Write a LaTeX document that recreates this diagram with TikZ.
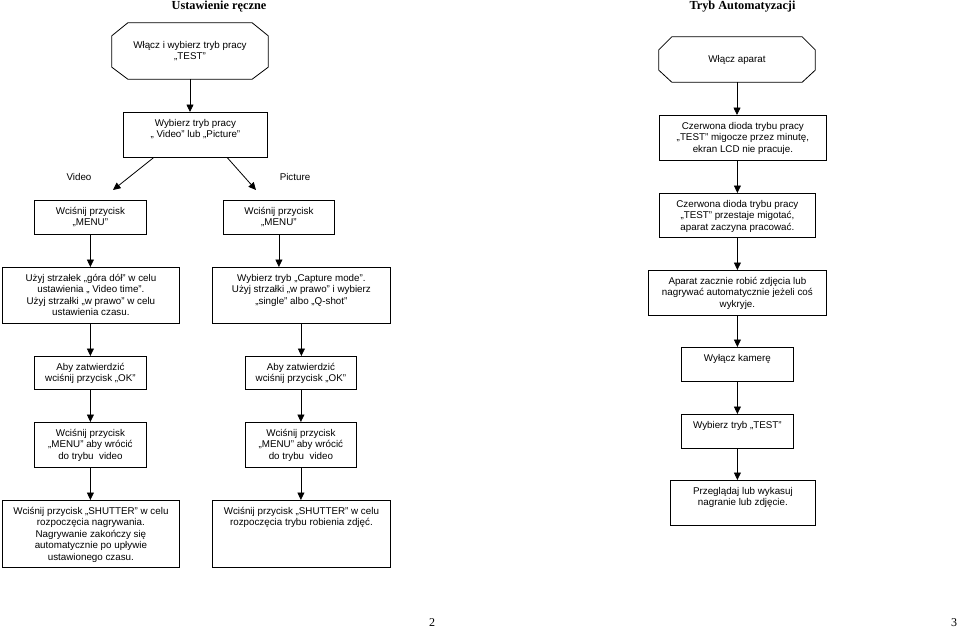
\documentclass[tikz,border=0pt]{standalone}
\usepackage{fontspec}
\setmainfont{Liberation Sans}
\newfontfamily\serifx{Liberation Serif}
\usetikzlibrary{arrows.meta}
\newcommand\bxt[3]{\parbox[c][#2][t]{#1}{\centering\fontsize{9.8}{11.5}\selectfont\rule{0pt}{14pt}#3\par}}
\tikzset{
 box/.style={draw, line width=0.8pt, inner sep=0pt, anchor=north west},
 arr/.style={line width=0.8pt, -{Triangle[length=7.5pt,width=7pt]}},
 lbl/.style={font=\fontsize{9.8}{11.5}\selectfont, inner sep=0pt},
 ttl/.style={font=\serifx\bfseries\fontsize{12.3}{14}\selectfont, inner sep=0pt, anchor=base},
 pnum/.style={font=\serifx\fontsize{12}{14}\selectfont, inner sep=0pt, anchor=base},
 octo/.style={line width=0.8pt},
}
\begin{document}
\begin{tikzpicture}[x=1pt,y=-1pt]
\useasboundingbox (0,0) rectangle (960,629);
% titles
\node[ttl] (t1) at (219,9.5) {Ustawienie ręczne};
\node[ttl] (t2) at (742.5,9.5) {Tryb Automatyzacji};
% left octagon
\node[lbl, minimum width=156pt, minimum height=56pt, align=center] (octL) at (190,51) {Włącz i wybierz tryb pracy\\„TEST”};
\draw[octo] ([xshift=16pt]octL.north west) -- ([xshift=-16pt]octL.north east) -- ([yshift=-13pt]octL.north east) -- ([yshift=12pt]octL.south east) -- ([xshift=-16pt]octL.south east) -- ([xshift=16pt]octL.south west) -- ([yshift=12pt]octL.south west) -- ([yshift=-13pt]octL.north west) -- cycle;
% right octagon
\node[lbl, minimum width=156pt, minimum height=45pt, align=center] (octR) at (737,59.5) {Włącz aparat};
\draw[octo] ([xshift=13pt]octR.north west) -- ([xshift=-13pt]octR.north east) -- ([yshift=-13pt]octR.north east) -- ([yshift=12pt]octR.south east) -- ([xshift=-13pt]octR.south east) -- ([xshift=13pt]octR.south west) -- ([yshift=12pt]octR.south west) -- ([yshift=-13pt]octR.north west) -- cycle;
% left side boxes
\node[box] (wyb) at (123,112) {\bxt{144pt}{45pt}{Wybierz tryb pracy\\„ Video” lub „Picture”}};
\node[box] (menuL) at (34,200) {\bxt{112pt}{34pt}{Wciśnij przycisk\\„MENU”}};
\node[box] (menuR) at (223,200) {\bxt{111pt}{34pt}{Wciśnij przycisk\\„MENU”}};
\node[box] (uzyj) at (2,267) {\bxt{177pt}{56pt}{Użyj strzałek „góra dół” w celu\\ustawienia „ Video time”.\\Użyj strzałki „w prawo” w celu\\ustawienia czasu.}};
\node[box] (capt) at (212,267) {\bxt{178pt}{56pt}{Wybierz tryb „Capture mode”.\\Użyj strzałki „w prawo” i wybierz\\„single” albo „Q-shot”}};
\node[box] (abyL) at (34,356) {\bxt{112pt}{33pt}{Aby zatwierdzić\\wciśnij przycisk „OK”}};
\node[box] (abyR) at (245,356) {\bxt{111pt}{33pt}{Aby zatwierdzić\\wciśnij przycisk „OK”}};
\node[box] (wrocL) at (34,422) {\bxt{112pt}{45pt}{Wciśnij przycisk\\„MENU” aby wrócić\\do trybu\ \ video}};
\node[box] (wrocR) at (245,422) {\bxt{111pt}{45pt}{Wciśnij przycisk\\„MENU” aby wrócić\\do trybu\ \ video}};
\node[box] (shutL) at (2,500) {\bxt{177pt}{67pt}{Wciśnij przycisk „SHUTTER” w celu\\rozpoczęcia nagrywania.\\Nagrywanie zakończy się\\automatycznie po upływie\\ustawionego czasu.}};
\node[box] (shutR) at (212,500) {\bxt{178pt}{67pt}{Wciśnij przycisk „SHUTTER” w celu\\rozpoczęcia trybu robienia zdjęć.}};
% right side boxes
\node[box] (czer1) at (659,115) {\bxt{167pt}{45pt}{Czerwona dioda trybu pracy\\„TEST” migocze przez minutę,\\ekran LCD nie pracuje.}};
\node[box] (czer2) at (659,193) {\bxt{156pt}{44pt}{Czerwona dioda trybu pracy\\„TEST” przestaje migotać,\\aparat zaczyna pracować.}};
\node[box] (apar) at (648,270) {\bxt{178pt}{45pt}{Aparat zacznie robić zdjęcia lub\\nagrywać automatycznie jeżeli coś\\wykryje.}};
\node[box] (wyl) at (681,347) {\bxt{112pt}{34pt}{\rule{0pt}{1.5pt}Wyłącz kamerę}};
\node[box] (test) at (681,414) {\bxt{112pt}{34pt}{\rule{0pt}{1.5pt}Wybierz tryb „TEST”}};
\node[box] (przeg) at (670,480) {\bxt{145pt}{45pt}{Przeglądaj lub wykasuj\\nagranie lub zdjęcie.}};
% labels
\node[lbl] (lv) at (79,177) {Video};
\node[lbl] (lp) at (295,177) {Picture};
% page numbers
\node[pnum] (p2) at (432,626) {2};
\node[pnum] (p3) at (954,626) {3};
% arrows left
\coordinate (vEnd) at (113,190);
\coordinate (pEnd) at (256,190);
\draw[arr] (octL.south) -- (octL.south |- wyb.north);
\draw[arr] ([xshift=-42pt]wyb.south) -- (vEnd);
\draw[arr] ([xshift=32pt]wyb.south) -- (pEnd);
\draw[arr] (menuL.south) -- (menuL.south |- uzyj.north);
\draw[arr] (menuR.south) -- (menuR.south |- capt.north);
\draw[arr] (abyL.north |- uzyj.south) -- (abyL.north);
\draw[arr] (capt.south) -- (capt.south |- abyR.north);
\draw[arr] (abyL.south) -- (wrocL.north);
\draw[arr] (abyR.south) -- (wrocR.north);
\draw[arr] (wrocL.south) -- (wrocL.south |- shutL.north);
\draw[arr] (wrocR.south) -- (wrocR.south |- shutR.north);
% arrows right
\draw[arr] (octR.south) -- (octR.south |- czer1.north);
\draw[arr] (czer2.north |- czer1.south) -- (czer2.north);
\draw[arr] (czer2.south) -- (czer2.south |- apar.north);
\draw[arr] (apar.south) -- (apar.south |- wyl.north);
\draw[arr] (wyl.south) -- (test.north);
\draw[arr] (test.south) -- (test.south |- przeg.north);
\end{tikzpicture}
\end{document}
